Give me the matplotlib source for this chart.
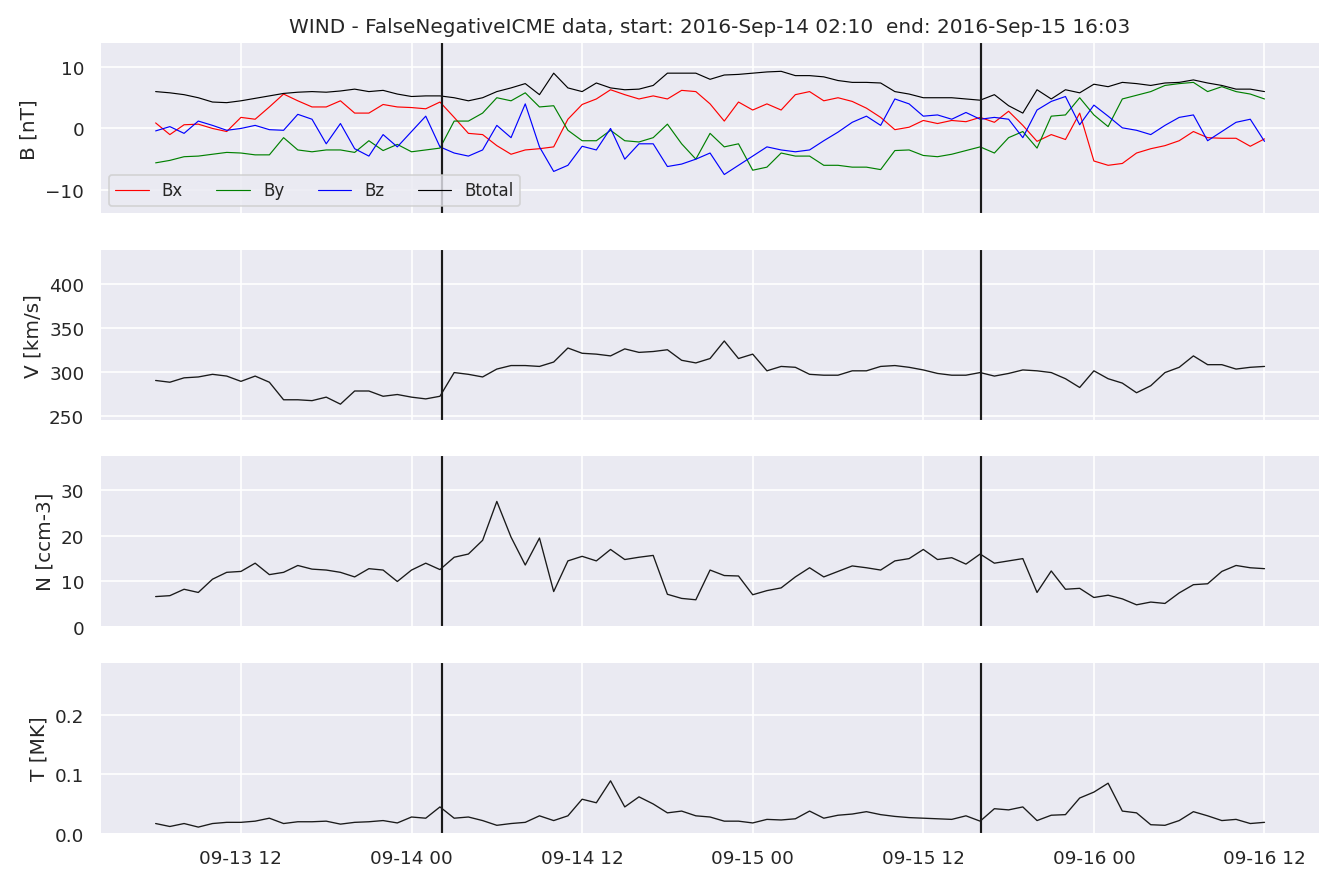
import matplotlib
matplotlib.use("Agg")
import matplotlib.pyplot as plt
import matplotlib.dates as mdates
import seaborn as sns
import pandas as pd

sns.set_theme(style="darkgrid")

# hourly samples, 2016-09-13 06:00 .. 2016-09-16 12:00
times = pd.date_range("2016-09-13 06:00", periods=79, freq="h")

bx = [0.9, -1.0, 0.6, 0.7, 0.0, -0.5, 1.8, 1.5, 3.5, 5.6, 4.5, 3.5, 3.5, 4.5, 2.5, 2.5, 3.9, 3.5, 3.4, 3.2, 4.3,
      1.8, -0.8, -1.0, -2.8, -4.2, -3.5, -3.3, -3.0, 1.5, 3.9, 4.8, 6.3, 5.5, 4.8, 5.3, 4.8, 6.2, 6.0, 4.0, 1.2, 4.3, 3.0, 4.0,
      3.0, 5.5, 6.0, 4.5, 5.0, 4.4, 3.3, 1.8, -0.2, 0.2, 1.3, 0.8, 1.3, 1.1, 1.8, 1.0, 2.8, 0.5, -2.1, -1.0, -1.8, 2.5,
      -5.3, -6.0, -5.7, -4.0, -3.3, -2.8, -2.0, -0.5, -1.5, -1.6, -1.6, -2.9, -1.7]
by = [-5.6, -5.2, -4.6, -4.5, -4.2, -3.9, -4.0, -4.3, -4.3, -1.5, -3.5, -3.8, -3.5, -3.5, -3.9, -2.0, -3.6, -2.6, -3.8, -3.5, -3.2,
      1.2, 1.2, 2.5, 5.0, 4.5, 5.8, 3.5, 3.7, -0.3, -2.0, -2.0, -0.3, -2.0, -2.2, -1.5, 0.7, -2.5, -5.0, -0.8, -3.0, -2.5, -6.8, -6.3,
      -4.0, -4.5, -4.5, -6.0, -6.0, -6.3, -6.3, -6.7, -3.6, -3.5, -4.4, -4.6, -4.2, -3.6, -3.0, -4.0, -1.5, -0.5, -3.2, 2.0, 2.2, 5.0,
      2.2, 0.3, 4.8, 5.4, 6.0, 7.0, 7.3, 7.5, 6.0, 6.8, 6.0, 5.6, 4.8]
bz = [-0.4, 0.3, -0.8, 1.2, 0.5, -0.3, 0.0, 0.5, -0.2, -0.3, 2.3, 1.5, -2.5, 0.8, -3.3, -4.5, -1.0, -3.0, -0.5, 2.0, -3.0,
      -4.0, -4.5, -3.5, 0.5, -1.5, 4.0, -3.0, -7.0, -6.0, -2.9, -3.5, 0.0, -5.0, -2.5, -2.5, -6.2, -5.8, -5.0, -4.0, -7.5, -6.0, -4.5, -3.0,
      -3.5, -3.8, -3.5, -2.0, -0.6, 1.0, 2.0, 0.5, 4.8, 4.0, 2.0, 2.2, 1.5, 2.6, 1.5, 1.8, 1.5, -1.5, 3.0, 4.4, 5.2, 0.6,
      3.8, 2.0, 0.1, -0.3, -1.0, 0.5, 1.8, 2.2, -2.0, -0.5, 1.0, 1.5, -2.1]
btot = [6.0, 5.8, 5.5, 5.0, 4.3, 4.2, 4.5, 4.9, 5.3, 5.7, 5.9, 6.0, 5.9, 6.1, 6.4, 6.0, 6.2, 5.6, 5.2, 5.3, 5.3,
        5.0, 4.5, 5.0, 6.0, 6.6, 7.3, 5.5, 9.0, 6.6, 6.0, 7.4, 6.6, 6.3, 6.4, 7.0, 9.0, 9.0, 9.0, 8.0, 8.7, 8.8, 9.0, 9.2,
        9.3, 8.6, 8.6, 8.4, 7.8, 7.5, 7.5, 7.4, 6.0, 5.6, 5.0, 5.0, 5.0, 4.8, 4.6, 5.5, 3.7, 2.5, 6.3, 4.8, 6.3, 5.8,
        7.2, 6.8, 7.5, 7.3, 7.0, 7.4, 7.5, 7.9, 7.4, 7.0, 6.4, 6.4, 6.0]

vt = [290, 288, 293, 294, 297, 295, 289, 295, 288, 268, 268, 267, 271, 263, 278, 278, 272, 274, 271, 269, 272,
      299, 297, 294, 303, 307, 307, 306, 311, 327, 321, 320, 318, 326, 322, 323, 325, 313, 310, 315,
      335, 315, 320, 301, 306, 305, 297, 296, 296, 301, 301, 306, 307, 305, 302, 298, 296, 296, 299, 295,
      298, 302, 301, 299, 292, 282, 301, 292, 287, 276, 284, 299, 305, 318, 308, 308, 303, 305, 306]

np_ = [6.7, 6.9, 8.3, 7.6, 10.5, 12.0, 12.2, 14.0, 11.5, 12.0, 13.5, 12.7, 12.5, 12.0, 11.0, 12.8, 12.5, 10.0, 12.5, 14.0, 12.6,
       15.3, 16.0, 19.0, 27.5, 19.7, 13.6, 19.5, 7.8, 14.5, 15.5, 14.5, 17.0, 14.8, 15.3, 15.7, 7.2, 6.3, 6.0, 12.5,
       11.3, 11.2, 7.1, 8.0, 8.6, 11.0, 13.0, 11.0, 12.2, 13.4, 13.0, 12.5, 14.5, 15.0, 17.0, 14.8, 15.2, 13.8, 16.0, 14.0,
       14.5, 15.0, 7.6, 12.3, 8.3, 8.5, 6.5, 7.0, 6.2, 4.9, 5.5, 5.2, 7.5, 9.3, 9.5, 12.2, 13.5, 13.0, 12.8]

tp = [0.017, 0.012, 0.017, 0.011, 0.017, 0.019, 0.019, 0.021, 0.026, 0.017, 0.020, 0.020, 0.021, 0.016, 0.019, 0.020,
      0.022, 0.018, 0.028, 0.026, 0.045, 0.026, 0.028, 0.022, 0.014, 0.017, 0.019, 0.030, 0.022, 0.030, 0.058, 0.052,
      0.089, 0.045, 0.062, 0.050, 0.035, 0.038, 0.030, 0.028, 0.021, 0.021, 0.018, 0.024, 0.023, 0.025, 0.038, 0.026,
      0.031, 0.033, 0.037, 0.032, 0.029, 0.027, 0.026, 0.025, 0.024, 0.030, 0.021, 0.042, 0.040, 0.045, 0.022, 0.031,
      0.032, 0.060, 0.070, 0.085, 0.038, 0.035, 0.015, 0.014, 0.022, 0.037, 0.030, 0.022, 0.024, 0.017, 0.019]

icme_start = pd.Timestamp("2016-09-14 02:10")
icme_end = pd.Timestamp("2016-09-15 16:03")

fig, axes = plt.subplots(4, 1, sharex=True, figsize=(11.133, 7.383), dpi=120)
fig.subplots_adjust(left=0.075, right=0.988, top=0.951, bottom=0.058, hspace=0.2)
ax1, ax2, ax3, ax4 = axes

ax1.plot(times, bx, color="red", lw=0.7, label="Bx")
ax1.plot(times, by, color="green", lw=0.7, label="By")
ax1.plot(times, bz, color="blue", lw=0.7, label="Bz")
ax1.plot(times, btot, color="black", lw=0.7, label="Btotal")
ax1.set_ylabel("B [nT]")
ax1.set_ylim(-14, 14)
ax1.set_yticks([-10, 0, 10])
ax1.legend(loc="lower left", ncol=4, fontsize=10)
ax1.set_title("WIND - FalseNegativeICME data, start: 2016-Sep-14 02:10  end: 2016-Sep-15 16:03")

ax2.plot(times, vt, "k", lw=0.8)
ax2.set_ylabel("V [km/s]")
ax2.set_ylim(244, 440)
ax2.set_yticks([250, 300, 350, 400])

ax3.plot(times, np_, "k", lw=0.8)
ax3.set_ylabel("N [ccm-3]")
ax3.set_ylim(0, 37.6)
ax3.set_yticks([0, 10, 20, 30])

ax4.plot(times, tp, "k", lw=0.8)
ax4.set_ylabel("T [MK]")
ax4.set_ylim(0, 0.29)
ax4.set_yticks([0.0, 0.1, 0.2])

for ax in axes:
    ax.axvline(icme_start, color="k", lw=1.3)
    ax.axvline(icme_end, color="k", lw=1.3)

ax4.xaxis.set_major_locator(mdates.HourLocator(byhour=[0, 12]))
ax4.xaxis.set_major_formatter(mdates.DateFormatter("%m-%d %H"))

plt.savefig("out.png")
plt.close()
